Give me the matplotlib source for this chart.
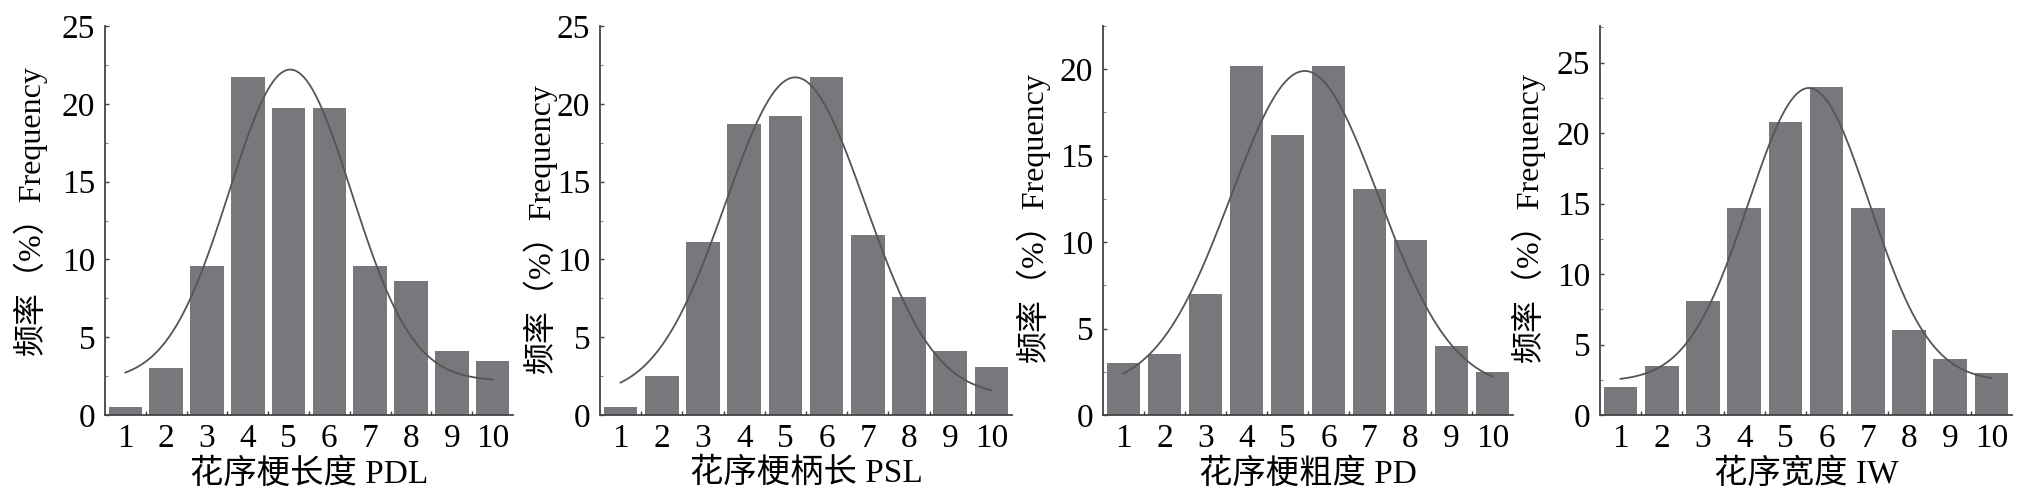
import numpy as np
import matplotlib
matplotlib.use("Agg")
import matplotlib.pyplot as plt
from matplotlib.ticker import MultipleLocator, FixedLocator

plt.rcParams['font.family'] = ['Liberation Serif', 'Noto Sans CJK SC']

# 组别 1-10
classes = np.arange(1, 11)

# 频率 (%)
freq_pdl = [0.5, 3.0, 9.6, 21.7, 19.7, 19.7, 9.6, 8.6, 4.1, 3.5]
freq_psl = [0.5, 2.5, 11.1, 18.7, 19.2, 21.7, 11.6, 7.6, 4.1, 3.1]
freq_pd = [3.0, 3.5, 7.0, 20.2, 16.2, 20.2, 13.1, 10.1, 4.0, 2.5]
freq_iw = [2.0, 3.5, 8.1, 14.7, 20.8, 23.3, 14.7, 6.0, 4.0, 3.0]

# 正态拟合曲线参数: (基线 y0, 中心 xc, sigma, 峰值)
fit_pdl = (2.2, 5.04, 1.50, 22.2)
fit_psl = (1.2, 5.24, 1.69, 21.7)
fit_pd = (1.5, 5.42, 1.80, 19.9)
fit_iw = (2.4, 5.57, 1.47, 23.2)

xlabels = ['花序梗长度 PDL', '花序梗柄长 PSL', '花序梗粗度 PD', '花序宽度 IW']
ylabel = '频率（%）Frequency'
ylims = [25, 25, 22.5, 27.6]

panels = [
    (freq_pdl, fit_pdl),
    (freq_psl, fit_psl),
    (freq_pd, fit_pd),
    (freq_iw, fit_iw),
]

# 每个子图的位置 (像素)
W, H = 2021, 492
lefts = [105, 600, 1103, 1600]
widths = [408, 412, 410, 412]
bottom_px, top_px = 415, 26
ylab_x = [-0.142, -0.104, -0.129, -0.133]
ylab_y = [0.527, 0.48, 0.51, 0.51]

bar_color = '#77787c'
line_color = '#555555'
axis_color = '#444444'

fig = plt.figure(figsize=(W / 100, H / 100), dpi=100)

for i, (freq, fit) in enumerate(panels):
    ax = fig.add_axes([lefts[i] / W, 1 - bottom_px / H,
                       widths[i] / W, (bottom_px - top_px) / H])
    ax.bar(classes, freq, width=0.82, color=bar_color, edgecolor='none')

    # 拟合曲线
    y0, xc, sd, peak = fit
    xs = np.linspace(1, 10, 300)
    ys = y0 + (peak - y0) * np.exp(-(xs - xc) ** 2 / (2 * sd ** 2))
    ax.plot(xs, ys, color=line_color, lw=1.3)

    ax.set_xlim(0.5, 10.5)
    ax.set_ylim(0, ylims[i])

    ax.set_xticks(classes)
    ax.xaxis.set_minor_locator(FixedLocator(np.arange(1.5, 10.5, 1)))
    ax.yaxis.set_major_locator(MultipleLocator(5))
    ax.yaxis.set_minor_locator(MultipleLocator(2.5))
    ax.tick_params(axis='x', which='major', length=0, pad=6, labelsize=24)
    ax.tick_params(axis='x', which='minor', direction='in', length=3,
                   width=1, color=axis_color)
    ax.tick_params(axis='y', which='major', direction='in', length=3,
                   width=1, color=axis_color, pad=7, labelsize=24)
    ax.tick_params(axis='y', which='minor', direction='in', length=2,
                   width=0.8, color='#888888')

    for s in ['top', 'right']:
        ax.spines[s].set_visible(False)
    for s in ['left', 'bottom']:
        ax.spines[s].set_color(axis_color)
        ax.spines[s].set_linewidth(1.3)

    ax.set_xlabel(xlabels[i], fontsize=24, labelpad=3)
    ax.set_ylabel(ylabel, fontsize=23)
    ax.yaxis.set_label_coords(ylab_x[i], ylab_y[i])

fig.savefig('out.png', dpi=100, facecolor='white')
